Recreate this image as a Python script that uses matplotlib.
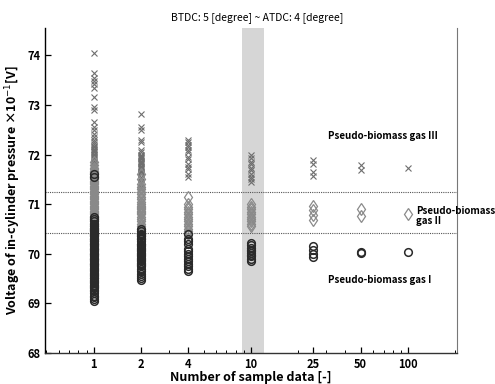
import matplotlib
matplotlib.use("Agg")
from matplotlib import pyplot as plt
from matplotlib.ticker import FixedLocator, FixedFormatter, LogLocator, NullFormatter

plt.rcParams['font.family'] = ['Noto Sans CJK JP', 'DejaVu Sans']

# サンプル数（平均に使った点数）
sample_n = [1, 2, 4, 10, 25, 50, 100]
tick_labels = ["1", "2", "4", "10", "25", "50", "100"]

# Pseudo-biomass gas III  (x)
g3_1 = [74.05, 73.65, 73.55, 73.48, 73.42, 73.35, 73.15, 72.95, 72.9, 72.65, 72.55,
        72.5, 72.42, 72.35, 72.3, 72.25, 72.22, 72.18, 72.15, 72.12, 72.1, 72.07,
        72.05, 72.02, 71.98, 71.95, 71.93, 71.9, 71.87, 71.85, 71.82, 71.8, 71.78,
        71.75, 71.73, 71.7, 71.68, 71.65, 71.63, 71.6, 71.57, 71.55, 71.52, 71.5,
        71.47, 71.45, 71.42, 71.4, 71.37, 71.35, 71.3, 71.25, 71.2, 71.15, 71.1,
        71.05, 71.0, 70.95, 70.9]
g3_2 = [72.82, 72.55, 72.5, 72.3, 72.25, 72.1, 72.05, 72.0, 71.97, 71.95, 71.92,
        71.9, 71.87, 71.85, 71.82, 71.8, 71.77, 71.75, 71.72, 71.7, 71.67, 71.65,
        71.62, 71.6, 71.55, 71.5, 71.45, 71.4, 71.35, 71.3]
g3_4 = [72.3, 72.25, 72.2, 72.15, 72.1, 72.05, 71.95, 71.9, 71.8, 71.75, 71.7, 71.6, 71.55]
g3_10 = [71.98, 71.92, 71.85, 71.8, 71.72, 71.68, 71.6, 71.55, 71.5, 71.45]
g3_25 = [71.88, 71.8, 71.65, 71.57]
g3_50 = [71.78, 71.68]
g3_100 = [71.72]

# Pseudo-biomass gas II  (diamond)
g2_1 = [71.85, 71.78, 71.72, 71.7, 71.67, 71.65, 71.62, 71.6, 71.57, 71.55, 71.52,
        71.5, 71.47, 71.45, 71.42, 71.4, 71.37, 71.35, 71.32, 71.3, 71.27, 71.25,
        71.22, 71.2, 71.17, 71.15, 71.12, 71.1, 71.07, 71.05, 71.02, 71.0, 70.97,
        70.95, 70.92, 70.9, 70.87, 70.85, 70.82, 70.8, 70.77, 70.75, 70.72, 70.7,
        70.67, 70.65, 70.62, 70.6, 70.57, 70.55, 70.52, 70.5, 70.47, 70.45, 70.42,
        70.4, 70.37, 70.35, 70.3, 70.25, 70.2, 70.1, 70.0, 69.9, 69.8]
g2_2 = [71.6, 71.5, 71.4, 71.35, 71.3, 71.25, 71.2, 71.15, 71.1, 71.05, 71.0, 70.97,
        70.95, 70.92, 70.9, 70.87, 70.85, 70.82, 70.8, 70.75, 70.7, 70.65, 70.6,
        70.55, 70.5, 70.45, 70.4, 70.35, 70.3, 70.2]
g2_4 = [71.15, 71.0, 70.95, 70.9, 70.85, 70.8, 70.75, 70.7, 70.65, 70.6, 70.55, 70.5, 70.45, 70.4]
g2_10 = [71.0, 70.95, 70.9, 70.85, 70.8, 70.75, 70.7, 70.65, 70.6, 70.55]
g2_25 = [70.97, 70.88, 70.78, 70.68]
g2_50 = [70.9, 70.76]
g2_100 = [70.8]

# Pseudo-biomass gas I  (circle)
g1_1 = [71.6, 71.55, 70.75, 70.7, 70.65, 70.6, 70.55, 70.52, 70.5, 70.47, 70.45,
        70.42, 70.4, 70.37, 70.35, 70.32, 70.3, 70.27, 70.25, 70.22, 70.2, 70.17,
        70.15, 70.12, 70.1, 70.07, 70.05, 70.02, 70.0, 69.97, 69.95, 69.92, 69.9,
        69.87, 69.85, 69.82, 69.8, 69.77, 69.75, 69.72, 69.7, 69.67, 69.65, 69.62,
        69.6, 69.57, 69.55, 69.52, 69.5, 69.47, 69.45, 69.42, 69.4, 69.37, 69.35,
        69.32, 69.3, 69.27, 69.25, 69.2, 69.15, 69.12, 69.08, 69.05]
g1_2 = [70.5, 70.45, 70.4, 70.37, 70.35, 70.32, 70.3, 70.25, 70.2, 70.17, 70.15,
        70.12, 70.1, 70.07, 70.05, 70.02, 70.0, 69.97, 69.95, 69.92, 69.9, 69.87,
        69.85, 69.82, 69.8, 69.77, 69.75, 69.7, 69.65, 69.6, 69.55, 69.5, 69.47]
g1_4 = [70.4, 70.3, 70.25, 70.2, 70.1, 70.05, 70.0, 69.95, 69.9, 69.85, 69.8, 69.75, 69.7, 69.65]
g1_10 = [70.22, 70.18, 70.12, 70.08, 70.05, 70.02, 69.98, 69.95, 69.9, 69.86]
g1_25 = [70.16, 70.08, 70.0, 69.94]
g1_50 = [70.04, 70.02]
g1_100 = [70.04]

gas3 = [g3_1, g3_2, g3_4, g3_10, g3_25, g3_50, g3_100]
gas2 = [g2_1, g2_2, g2_4, g2_10, g2_25, g2_50, g2_100]
gas1 = [g1_1, g1_2, g1_4, g1_10, g1_25, g1_50, g1_100]

fig = plt.figure(figsize=(4.95, 3.84), dpi=100)
ax = fig.add_axes([0.091, 0.081, 0.832, 0.846])

# 10点の帯
ax.axvspan(8.8, 12.1, facecolor="#d6d6d6", edgecolor="none", zorder=0)

for n, vals in zip(sample_n, gas3):
    ax.plot([n] * len(vals), vals, "x", color="#6e6e6e", ms=4, mew=0.8, zorder=3)
for n, vals in zip(sample_n, gas2):
    ax.plot([n] * len(vals), vals, "d", mfc="none", mec="#8a8a8a", ms=6.5, mew=0.9, zorder=3)
for n, vals in zip(sample_n, gas1):
    ax.plot([n] * len(vals), vals, "o", mfc="none", mec="#2a2a2a", ms=5.5, mew=1.1, zorder=3)

ax.axhline(71.25, color="#555555", lw=0.8, ls=(0, (1, 1)), zorder=1)
ax.axhline(70.42, color="#555555", lw=0.8, ls=(0, (1, 1)), zorder=1)

ax.set_xscale("log")
ax.set_xlim(0.49, 205)
ax.set_ylim(68, 74.55)
ax.xaxis.set_major_locator(FixedLocator(sample_n))
ax.xaxis.set_major_formatter(FixedFormatter(tick_labels))
ax.xaxis.set_minor_locator(LogLocator(base=10, subs=range(2, 10)))
ax.xaxis.set_minor_formatter(NullFormatter())
ax.set_yticks(range(68, 75))

ax.tick_params(axis="both", which="major", direction="in", length=4, width=0.9, labelsize=8)
ax.tick_params(axis="x", which="minor", direction="in", length=2, width=0.7)
for lab in ax.get_xticklabels() + ax.get_yticklabels():
    lab.set_fontweight("bold")

ax.spines["top"].set_visible(False)
ax.spines["right"].set_linestyle((0, (1, 1)))
ax.spines["right"].set_color("#777777")
ax.spines["right"].set_linewidth(0.8)
ax.spines["left"].set_linewidth(1.0)
ax.spines["bottom"].set_color("#333333")
ax.spines["bottom"].set_linewidth(1.0)

ax.set_xlabel("Number of sample data [-]", fontsize=9, fontweight="bold", labelpad=0)
ax.set_ylabel("Voltage of in-cylinder pressure \u00d710$^{-1}$[V]", fontsize=9,
              fontweight="bold", labelpad=3)
fig.text(0.52, 0.955, "BTDC: 5 [degree] ~ ATDC: 4 [degree]", ha="center", va="center", fontsize=7.5)

ax.text(31, 72.37, "Pseudo-biomass gas III", fontsize=7, fontweight="bold", va="center")
ax.text(113, 70.76, "Pseudo-biomass\ngas II", fontsize=7, fontweight="bold", va="center",
        linespacing=0.95, clip_on=False)
ax.text(31, 69.47, "Pseudo-biomass gas I", fontsize=7, fontweight="bold", va="center")

plt.savefig("out.png", dpi=100)
